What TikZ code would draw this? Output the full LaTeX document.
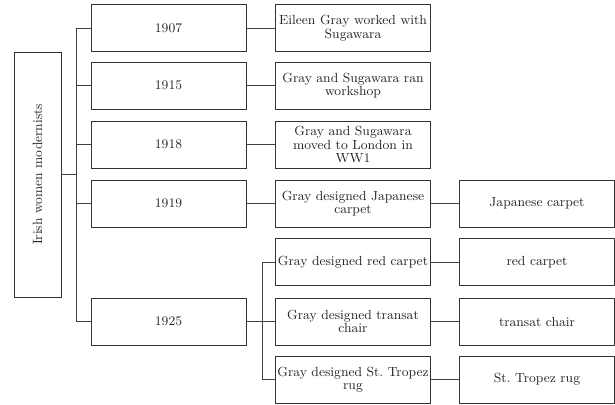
\documentclass[tikz,border=0pt]{standalone}
\usetikzlibrary{positioning}
\tikzset{
  box/.style={draw=black!80, semithick, rectangle, minimum width=3.875cm, minimum height=1.175cm,
    inner sep=1pt, align=center, text=black!85, font=\fontsize{9.4}{9.6}\selectfont\frenchspacing},
  rootbox/.style={draw=black!80, semithick, rectangle, rotate=90, minimum width=6.125cm,
    minimum height=1.175cm, text=black!85, font=\fontsize{9.6}{9.6}\selectfont},
  line/.style={draw=black!75, semithick}
}
\newcommand{\tbox}[4]{\node[box] (#1) at (#2,#3) {#4};}
\newcommand{\link}[2]{\draw[line] (#1.east) -- (#2.west);}
\newcommand{\elbow}[3]{\draw[line] (#1) -- ++(#3,0) |- (#2.west);}

\begin{document}
\begin{tikzpicture}
    \useasboundingbox (0,0) rectangle (15.375,-10.125);
    \node[rootbox] (root) at (0.9375,-4.3625) {Irish women modernists};
    % years (root is turned, its right side is root.south)
    \tbox{y1907}{4.2125}{-0.7}{1907}      \tbox{y1915}{4.2125}{-2.1375}{1915}
    \tbox{y1918}{4.2125}{-3.6125}{1918}   \tbox{y1919}{4.2125}{-5.0875}{1919}
    \tbox{y1925}{4.2125}{-8.0375}{1925}
    \elbow{root.south}{y1907}{0.375}\elbow{root.south}{y1915}{0.375}\elbow{root.south}{y1918}{0.375}
    \elbow{root.south}{y1919}{0.375}\elbow{root.south}{y1925}{0.375}
    % events
    \tbox{eWork}{8.825}{-0.7}{Eileen Gray worked with\\Sugawara}
    \tbox{eShop}{8.825}{-2.1375}{Gray and Sugawara ran\\workshop}
    \tbox{eLondon}{8.825}{-3.6125}{Gray and Sugawara\\moved to London in\\WW1}
    \tbox{eJapan}{8.825}{-5.0875}{Gray designed Japanese\\carpet}
    \tbox{eRed}{8.825}{-6.55}{Gray designed red carpet}
    \tbox{eTransat}{8.825}{-8.0375}{Gray designed transat\\chair}
    \tbox{eTropez}{8.825}{-9.4875}{Gray designed St. Tropez\\rug}
    \link{y1907}{eWork}\link{y1915}{eShop}\link{y1918}{eLondon}\link{y1919}{eJapan}
    \elbow{y1925.east}{eRed}{0.4}\elbow{y1925.east}{eTransat}{0.4}\elbow{y1925.east}{eTropez}{0.4}
    % objects
    \tbox{oJapan}{13.425}{-5.0875}{Japanese carpet}
    \tbox{oRed}{13.425}{-6.55}{red carpet}
    \tbox{oTransat}{13.425}{-8.0375}{transat chair}
    \tbox{oTropez}{13.425}{-9.4875}{St. Tropez rug}
    \link{eJapan}{oJapan}\link{eRed}{oRed}\link{eTransat}{oTransat}\link{eTropez}{oTropez}
\end{tikzpicture}
\end{document}
